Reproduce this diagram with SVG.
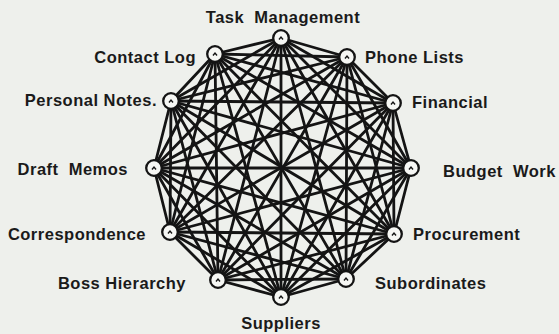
<svg xmlns="http://www.w3.org/2000/svg" xmlns:xlink="http://www.w3.org/1999/xlink" width="559" height="334" viewBox="0 0 559 334">
<style>
.bg{fill:#eef0ec}
.edge{stroke:#141414;stroke-width:2.8;stroke-linecap:round}
.nc{fill:#f6f7f4;stroke:#141414;stroke-width:2.3}
.mk{fill:none;stroke:#141414;stroke-width:1.4}
.lb{font-family:"Liberation Sans",Arial,sans-serif;font-weight:bold;font-size:16.5px;fill:#1a1a1a;letter-spacing:0.5px}
.w{word-spacing:5px}
.s{text-anchor:start}.e{text-anchor:end}.m{text-anchor:middle}
</style>
<defs>
<g id="node"><circle class="nc" r="7.8"/><path class="mk" d="M-2,1.5 L0,-1 L2,1.5"/></g>
</defs>
<rect class="bg" width="559" height="334"/>
<g id="connectors">
<line class="edge" x1="281" y1="38" x2="347" y2="57"/>
<line class="edge" x1="281" y1="38" x2="393" y2="103"/>
<line class="edge" x1="281" y1="38" x2="411" y2="168"/>
<line class="edge" x1="281" y1="38" x2="394" y2="234"/>
<line class="edge" x1="281" y1="38" x2="346" y2="279"/>
<line class="edge" x1="281" y1="38" x2="281" y2="297"/>
<line class="edge" x1="281" y1="38" x2="218" y2="280"/>
<line class="edge" x1="281" y1="38" x2="170" y2="232"/>
<line class="edge" x1="281" y1="38" x2="154" y2="168"/>
<line class="edge" x1="281" y1="38" x2="171" y2="101"/>
<line class="edge" x1="281" y1="38" x2="215" y2="54"/>
<line class="edge" x1="347" y1="57" x2="393" y2="103"/>
<line class="edge" x1="347" y1="57" x2="411" y2="168"/>
<line class="edge" x1="347" y1="57" x2="394" y2="234"/>
<line class="edge" x1="347" y1="57" x2="346" y2="279"/>
<line class="edge" x1="347" y1="57" x2="281" y2="297"/>
<line class="edge" x1="347" y1="57" x2="218" y2="280"/>
<line class="edge" x1="347" y1="57" x2="170" y2="232"/>
<line class="edge" x1="347" y1="57" x2="154" y2="168"/>
<line class="edge" x1="347" y1="57" x2="171" y2="101"/>
<line class="edge" x1="347" y1="57" x2="215" y2="54"/>
<line class="edge" x1="393" y1="103" x2="411" y2="168"/>
<line class="edge" x1="393" y1="103" x2="394" y2="234"/>
<line class="edge" x1="393" y1="103" x2="346" y2="279"/>
<line class="edge" x1="393" y1="103" x2="281" y2="297"/>
<line class="edge" x1="393" y1="103" x2="218" y2="280"/>
<line class="edge" x1="393" y1="103" x2="170" y2="232"/>
<line class="edge" x1="393" y1="103" x2="154" y2="168"/>
<line class="edge" x1="393" y1="103" x2="171" y2="101"/>
<line class="edge" x1="393" y1="103" x2="215" y2="54"/>
<line class="edge" x1="411" y1="168" x2="394" y2="234"/>
<line class="edge" x1="411" y1="168" x2="346" y2="279"/>
<line class="edge" x1="411" y1="168" x2="281" y2="297"/>
<line class="edge" x1="411" y1="168" x2="218" y2="280"/>
<line class="edge" x1="411" y1="168" x2="170" y2="232"/>
<line class="edge" x1="411" y1="168" x2="154" y2="168"/>
<line class="edge" x1="411" y1="168" x2="171" y2="101"/>
<line class="edge" x1="411" y1="168" x2="215" y2="54"/>
<line class="edge" x1="394" y1="234" x2="346" y2="279"/>
<line class="edge" x1="394" y1="234" x2="281" y2="297"/>
<line class="edge" x1="394" y1="234" x2="218" y2="280"/>
<line class="edge" x1="394" y1="234" x2="170" y2="232"/>
<line class="edge" x1="394" y1="234" x2="154" y2="168"/>
<line class="edge" x1="394" y1="234" x2="171" y2="101"/>
<line class="edge" x1="394" y1="234" x2="215" y2="54"/>
<line class="edge" x1="346" y1="279" x2="281" y2="297"/>
<line class="edge" x1="346" y1="279" x2="218" y2="280"/>
<line class="edge" x1="346" y1="279" x2="170" y2="232"/>
<line class="edge" x1="346" y1="279" x2="154" y2="168"/>
<line class="edge" x1="346" y1="279" x2="171" y2="101"/>
<line class="edge" x1="346" y1="279" x2="215" y2="54"/>
<line class="edge" x1="281" y1="297" x2="218" y2="280"/>
<line class="edge" x1="281" y1="297" x2="170" y2="232"/>
<line class="edge" x1="281" y1="297" x2="154" y2="168"/>
<line class="edge" x1="281" y1="297" x2="171" y2="101"/>
<line class="edge" x1="281" y1="297" x2="215" y2="54"/>
<line class="edge" x1="218" y1="280" x2="170" y2="232"/>
<line class="edge" x1="218" y1="280" x2="154" y2="168"/>
<line class="edge" x1="218" y1="280" x2="171" y2="101"/>
<line class="edge" x1="218" y1="280" x2="215" y2="54"/>
<line class="edge" x1="170" y1="232" x2="154" y2="168"/>
<line class="edge" x1="170" y1="232" x2="171" y2="101"/>
<line class="edge" x1="170" y1="232" x2="215" y2="54"/>
<line class="edge" x1="154" y1="168" x2="171" y2="101"/>
<line class="edge" x1="154" y1="168" x2="215" y2="54"/>
<line class="edge" x1="171" y1="101" x2="215" y2="54"/>
</g>
<g id="n-task"><use xlink:href="#node" x="281" y="38"/><text class="lb m w" x="283" y="23">Task Management</text></g>
<g id="n-phone"><use xlink:href="#node" x="347" y="57"/><text class="lb s" x="365" y="63">Phone Lists</text></g>
<g id="n-financial"><use xlink:href="#node" x="393" y="103"/><text class="lb s" x="412" y="108">Financial</text></g>
<g id="n-budget"><use xlink:href="#node" x="411" y="168"/><text class="lb s w" x="443" y="177">Budget Work</text></g>
<g id="n-procurement"><use xlink:href="#node" x="394" y="234"/><text class="lb s" x="413" y="240">Procurement</text></g>
<g id="n-subordinates"><use xlink:href="#node" x="346" y="279"/><text class="lb s" x="375" y="289">Subordinates</text></g>
<g id="n-suppliers"><use xlink:href="#node" x="281" y="297"/><text class="lb m" x="281" y="329">Suppliers</text></g>
<g id="n-boss"><use xlink:href="#node" x="218" y="280"/><text class="lb e" x="186" y="289">Boss Hierarchy</text></g>
<g id="n-correspondence"><use xlink:href="#node" x="170" y="232"/><text class="lb e" x="146" y="240">Correspondence</text></g>
<g id="n-draft"><use xlink:href="#node" x="154" y="168"/><text class="lb e w" x="128" y="175">Draft Memos</text></g>
<g id="n-personal"><use xlink:href="#node" x="171" y="101"/><text class="lb e" x="157" y="106">Personal Notes.</text></g>
<g id="n-contact"><use xlink:href="#node" x="215" y="54"/><text class="lb e" x="196" y="63">Contact Log</text></g>
</svg>
